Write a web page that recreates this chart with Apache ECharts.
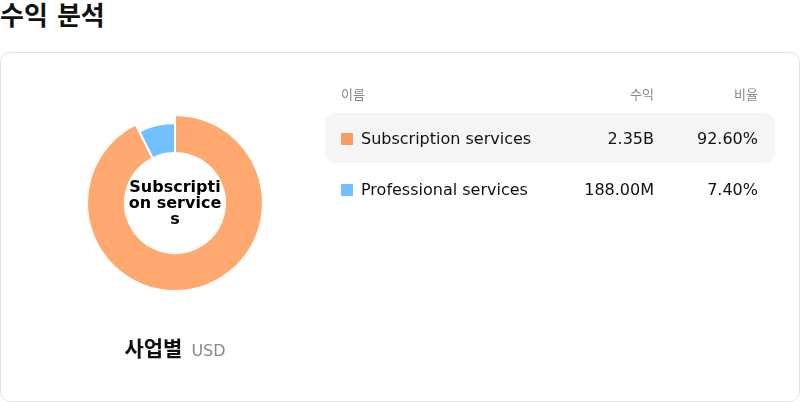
<!DOCTYPE html>
<html><head><meta charset="utf-8">
<script src="https://cdn.jsdelivr.net/npm/echarts@6/dist/echarts.min.js"></script>
<style>
html,body{margin:0;padding:0;width:800px;height:402px;overflow:hidden;background:#fff;font-family:"DejaVu Sans","Noto Sans CJK KR",sans-serif;color:#111;}
#title{position:absolute;left:0;top:0;font-size:26px;font-weight:bold;line-height:32px;font-family:"DejaVu Sans","Noto Sans CJK KR",sans-serif;}
#card{position:absolute;left:0;top:52px;width:800px;height:350px;border:1px solid #e2e2ea;border-radius:10px;box-sizing:border-box;}
#chart{position:absolute;left:0;top:0;width:800px;height:402px;}
#sub{position:absolute;left:0;width:350px;top:334px;text-align:center;line-height:26px;}
#sub b{font-size:21px;font-family:"Noto Sans CJK KR",sans-serif;}
#sub span{font-size:16px;color:#888;margin-left:9px;}
#tbl{position:absolute;left:325px;top:79px;width:450px;}
.row{position:relative;height:50px;}
.hdr{height:34px;font-size:13px;color:#888;}
.row div{position:absolute;top:0;white-space:nowrap;}
.c1{left:16px;}
.c2{right:121px;text-align:right;}
.c3{right:17px;text-align:right;}
.hdr div{line-height:32px;}
.body div{line-height:50px;font-size:16px;top:1px;}
.body + .body{margin-top:1px;}
.sw{display:inline-block;width:12px;height:12px;margin-right:8px;vertical-align:-1px;}
.hl{background:#f5f5f5;border-radius:10px;}
</style></head>
<body>
<div id="title">수익 분석</div>
<div id="card"></div>
<div id="chart"></div>
<div id="sub"><b>사업별</b><span>USD</span></div>
<div id="tbl"></div>
<script>
var categories = ["Subscription services", "Professional services"];
var revenues = [2352500000, 188000000];
var revenueLabels = ["2.35B", "188.00M"];
var colors = ["#FF9966", "#73C0FF"];
var headers = ["이름", "수익", "비율"];

var total = revenues.reduce(function(a,b){return a+b;},0);
var tbl = document.getElementById('tbl');
var html = '<div class="row hdr"><div class="c1">'+headers[0]+'</div><div class="c2">'+headers[1]+'</div><div class="c3">'+headers[2]+'</div></div>';
categories.forEach(function(c,i){
  var pct = (revenues[i]/total*100).toFixed(2)+'%';
  html += '<div class="row body'+(i===0?' hl':'')+'"><div class="c1"><span class="sw" style="background:'+colors[i]+'"></span>'+c+'</div><div class="c2">'+revenueLabels[i]+'</div><div class="c3">'+pct+'</div></div>';
});
tbl.innerHTML = html;

var chart = echarts.init(document.getElementById('chart'));
chart.setOption({
  animation: false,
  graphic: [{
    type: 'text',
    z: 100,
    style: {
      text: categories[0],
      x: 175,
      y: 204,
      width: 96,
      overflow: 'breakAll',
      align: 'center',
      verticalAlign: 'middle',
      fontSize: 16,
      fontWeight: 'bold',
      fontFamily: 'DejaVu Sans',
      lineHeight: 16,
      fill: '#000'
    }
  }],
  series: [{
    type: 'pie',
    center: [175, 203],
    radius: [50, 80],
    startAngle: 90,
    itemStyle: { borderColor: '#fff', borderWidth: 2 },
    label: { show: false },
    labelLine: { show: false },
    emphasis: { scale: true, scaleSize: 8, label: { show: false } },
    data: categories.map(function(c,i){
      return { name: c, value: revenues[i], itemStyle: { color: colors[i] } };
    })
  }]
});
chart.dispatchAction({ type: 'highlight', seriesIndex: 0, dataIndex: 0 });
</script>
</body></html>
